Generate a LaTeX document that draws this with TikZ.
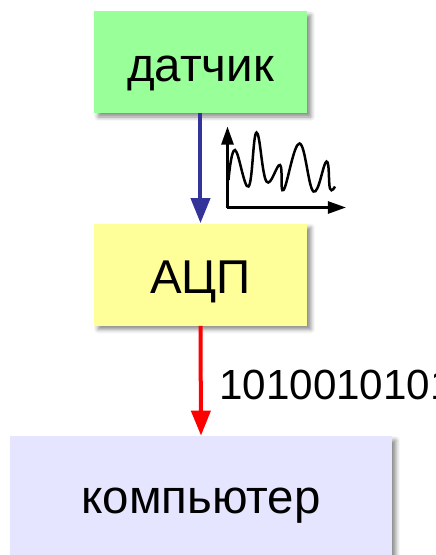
\documentclass[tikz,border=0pt]{standalone}
\usepackage{fontspec}
\setmainfont{Liberation Sans}
\usetikzlibrary{arrows.meta,shadows.blur}
\definecolor{sensorgreen}{HTML}{99FF99}
\definecolor{adcyellow}{HTML}{FFFF99}
\definecolor{pclilac}{HTML}{E5E5FF}
\definecolor{arrowblue}{HTML}{333399}
\tikzset{
  box/.style={fill=#1, minimum width=4.26cm, minimum height=2.04cm,
    text height=0.96cm, text depth=0.19cm, inner sep=0pt,
    font=\fontsize{27}{32}\selectfont,
    blur shadow={shadow xshift=0.08cm, shadow yshift=-0.08cm,
      shadow blur radius=0.08cm, shadow opacity=45}},
  flow/.style={line width=0.08cm, -{Triangle[length=0.5cm,width=0.38cm]}},
  axis/.style={line width=0.05cm, -{Triangle[length=0.36cm,width=0.24cm]}}
}
\begin{document}
\begin{tikzpicture}
\useasboundingbox (0, 0) rectangle (8.72, -11.1);
\clip (0, 0) rectangle (8.72, -11.1);
\node [box=sensorgreen] (sensor) at (4.01, -1.24) {датчик};
\node [box=adcyellow] (adc) at (4.01, -5.49) {АЦП};
\node [box=pclilac, minimum width=7.64cm, minimum height=2.6cm, text depth=0.48cm] (pc) at (4.02, -10.02) {компьютер};
\draw [flow, arrowblue] (sensor.south) -- (adc.north);
\draw [flow, red] (adc.south) -- (pc.north)
  node [midway, anchor=west, inner sep=0pt, xshift=0.33cm, yshift=-0.08cm,
    font=\fontsize{24}{28}\selectfont, text=black] (bits) {10100101011};
% signal
\draw [axis] (4.55, -4.15) -- (4.55, -2.53);
\draw [axis] (4.55, -4.15) -- (6.92, -4.15);
\draw [line width=0.05cm, smooth, tension=0.7] plot coordinates {
  (4.57, -3.60) (4.70, -3.00) (4.97, -3.73) (5.13, -2.65) (5.33, -3.63)
  (5.60, -3.30) (5.67, -3.80) (5.99, -2.87) (6.27, -3.83) (6.53, -3.23)
  (6.60, -3.77) (6.70, -3.73)};
\end{tikzpicture}
\end{document}
